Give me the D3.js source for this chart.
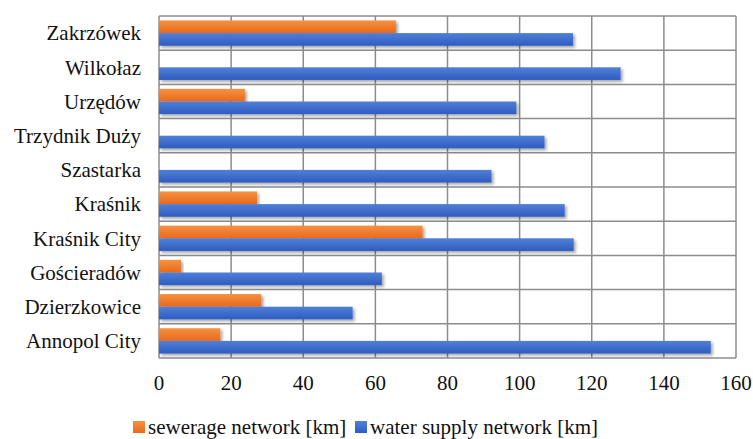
<!DOCTYPE html>
<html>
<head>
<meta charset="utf-8">
<script src="https://cdn.jsdelivr.net/npm/d3@7"></script>
</head>
<body style="margin:0">
<script>
const ctx = {
    w: 753,
    h: 439,
    margin: { top: 16, right: 16, bottom: 81, left: 159 },
    font: '"Liberation Serif"',
    fontSize: "21px",
};

// categories, top to bottom
const gminy = ["Zakrzówek", "Wilkołaz", "Urzędów", "Trzydnik Duży", "Szastarka",
    "Kraśnik", "Kraśnik City", "Gościeradów", "Dzierzkowice", "Annopol City"];
const seriesNames = ["sewerage network [km]", "water supply network [km]"];
const sewerage = [65.7, 0, 23.8, 0, 0, 27.2, 73.1, 6.1, 28.4, 17.0];
const waterSupply = [114.8, 128.0, 99.1, 106.9, 92.2, 112.5, 115.0, 61.8, 53.7, 153.0];
const xTicks = [0, 20, 40, 60, 80, 100, 120, 140, 160];

function createViz() {
    const svg = d3.select("body").append("svg")
        .attr("width", ctx.w)
        .attr("height", ctx.h);

    // gradients + shadow, like the office-style bars
    const defs = svg.append("defs");
    const grads = [
        { id: "gOrange", c0: "#f7913f", c1: "#e8691d" },
        { id: "gBlue", c0: "#5080d8", c1: "#2e5cc0" },
    ];
    grads.forEach(g => {
        const lg = defs.append("linearGradient").attr("id", g.id)
            .attr("x1", 0).attr("y1", 0).attr("x2", 0).attr("y2", 1);
        lg.append("stop").attr("offset", "0%").attr("stop-color", g.c0);
        lg.append("stop").attr("offset", "100%").attr("stop-color", g.c1);
    });
    defs.append("filter").attr("id", "shadow")
        .attr("x", "-5%").attr("y", "-30%").attr("width", "115%").attr("height", "180%")
        .append("feDropShadow")
        .attr("dx", 2).attr("dy", 2).attr("stdDeviation", 1.5)
        .attr("flood-color", "#000").attr("flood-opacity", 0.35);

    const x = d3.scaleLinear()
        .domain([0, 160])
        .range([ctx.margin.left, ctx.w - ctx.margin.right - 1]);
    const y = d3.scaleBand()
        .domain(gminy)
        .range([ctx.margin.top, ctx.h - ctx.margin.bottom])
        .paddingInner(0.26)
        .paddingOuter(0.13);
    const sub = d3.scaleBand().domain([0, 1]).range([0, y.bandwidth()]);

    // grid
    svg.selectAll("line.v").data(xTicks).enter().append("line")
        .attr("x1", d => x(d)).attr("x2", d => x(d))
        .attr("y1", ctx.margin.top).attr("y2", ctx.h - ctx.margin.bottom)
        .attr("stroke", "#8c8c8c").attr("stroke-width", 1.5);
    const rowLines = d3.range(gminy.length + 1).map(i => ctx.margin.top + i * y.step());
    svg.selectAll("line.h").data(rowLines).enter().append("line")
        .attr("x1", x(0)).attr("x2", x(160))
        .attr("y1", d => d).attr("y2", d => d)
        .attr("stroke", "#8c8c8c").attr("stroke-width", 1.5);

    // bars
    const data = gminy.map((g, i) => ({ g: g, vals: [sewerage[i], waterSupply[i]] }));
    const rows = svg.append("g").selectAll("g").data(data).enter().append("g")
        .attr("transform", d => `translate(0, ${y(d.g)})`);
    rows.selectAll("rect")
        .data(d => d.vals.map((v, k) => ({ v: v, k: k })).filter(e => e.v > 0))
        .enter().append("rect")
        .attr("x", x(0))
        .attr("y", d => sub(d.k))
        .attr("width", d => x(d.v) - x(0))
        .attr("height", sub.bandwidth())
        .attr("fill", d => d.k === 0 ? "url(#gOrange)" : "url(#gBlue)")
        .attr("filter", "url(#shadow)");

    // category labels
    svg.selectAll("text.cat").data(gminy).enter().append("text")
        .attr("x", ctx.margin.left - 18)
        .attr("y", d => y(d) + y.bandwidth() / 2)
        .attr("dy", "0.35em")
        .attr("text-anchor", "end")
        .style("font-family", ctx.font)
        .style("font-size", ctx.fontSize)
        .attr("fill", "#111")
        .text(d => d);

    // x tick labels
    svg.selectAll("text.tick").data(xTicks).enter().append("text")
        .attr("x", d => x(d))
        .attr("y", ctx.h - ctx.margin.bottom + 32)
        .attr("text-anchor", "middle")
        .style("font-family", ctx.font)
        .style("font-size", ctx.fontSize)
        .attr("fill", "#111")
        .text(d => d);

    // legend
    const legX = [133, 355];
    svg.selectAll("rect.leg").data(seriesNames).enter().append("rect")
        .attr("x", (d, i) => legX[i]).attr("y", 421)
        .attr("width", 12).attr("height", 12)
        .attr("fill", (d, i) => i === 0 ? "url(#gOrange)" : "url(#gBlue)");
    svg.selectAll("text.leg").data(seriesNames).enter().append("text")
        .attr("x", (d, i) => legX[i] + 15).attr("y", 434)
        .style("font-family", ctx.font)
        .style("font-size", ctx.fontSize)
        .attr("fill", "#111")
        .text(d => d);
}

createViz();
</script>
</body>
</html>
